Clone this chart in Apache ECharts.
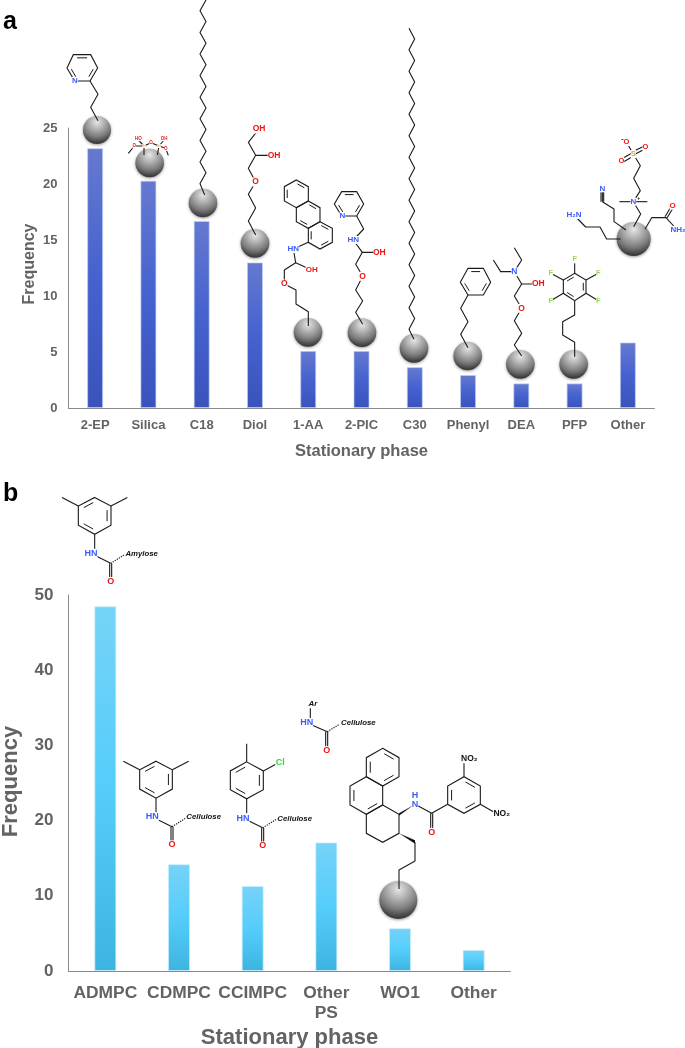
<!DOCTYPE html>
<html><head><meta charset="utf-8">
<style>html,body{margin:0;padding:0;background:#fff}#c{width:685px;height:1048px}</style>
<script src="https://cdn.jsdelivr.net/npm/echarts@6/dist/echarts.min.js"></script>
</head><body><div id="c"></div>
<script>
const phasesA = ['2-EP','Silica','C18','Diol','1-AA','2-PIC','C30','Phenyl','DEA','PFP','Other'];
const freqA = [23.2,20.3,16.7,13.0,5.1,5.1,3.65,2.95,2.2,2.2,5.85];
const phasesB = ['ADMPC','CDMPC','CCIMPC','Other\nPS','WO1','Other'];
const freqB = [48.5,14.2,11.3,17.1,5.7,2.8];
const FONT = '"Liberation Sans", Arial, sans-serif';
const GREY = '#636363', AXIS = '#8a8a8a';
const BLUE = '#3d5cff', RED = '#ee1515', GREEN = '#9ad45a', LIME = '#22dd33', ORANGE = '#f0a030', TAN='#e0a878', BLACK='#111';

const g = [];
function frame(ox,oy,sx,sy){ return (x,y)=>[ox+x/sx, oy+y/sy]; }
const A1 = frame(0,0,3,3), A2 = frame(340,0,3,3), B1 = frame(0,480,3,2.76), B2 = frame(280,680,3,3);

function line(f, flat, opt){
  opt = opt||{};
  const pts=[]; for(let i=0;i<flat.length;i+=2) pts.push(f(flat[i],flat[i+1]));
  g.push({type:'polyline',silent:true,z:20,shape:{points:pts},
    style:{stroke:opt.color||'#1a1a1a',lineWidth:opt.w||1.1,fill:null,lineDash:opt.dash||null,lineJoin:'round'}});
}
function ring(f, flat, dbl){
  const pts=[]; for(let i=0;i<flat.length;i+=2) pts.push(f(flat[i],flat[i+1]));
  const n=pts.length; const cx=pts.reduce((a,p)=>a+p[0],0)/n, cy=pts.reduce((a,p)=>a+p[1],0)/n;
  g.push({type:'polygon',silent:true,z:20,shape:{points:pts},style:{stroke:'#1a1a1a',lineWidth:1.1,fill:null}});
  (dbl||[]).forEach(i=>{
    const a=pts[i], b=pts[(i+1)%n], k=0.76;
    const p=[cx+(a[0]-cx)*k, cy+(a[1]-cy)*k], q=[cx+(b[0]-cx)*k, cy+(b[1]-cy)*k];
    const m=0.12;
    const p2=[p[0]+(q[0]-p[0])*m,p[1]+(q[1]-p[1])*m], q2=[q[0]+(p[0]-q[0])*m,q[1]+(p[1]-q[1])*m];
    g.push({type:'line',silent:true,z:20,shape:{x1:p2[0],y1:p2[1],x2:q2[0],y2:q2[1]},style:{stroke:'#1a1a1a',lineWidth:1}});
  });
}
function atom(f, t, x, y, color, size, extra){
  const p=f(x,y);
  g.push({type:'text',silent:true,z:22,x:p[0],y:p[1],style:Object.assign({text:t,fill:color||BLACK,font:'bold '+(size||8)+'px '+FONT,
    align:'center',verticalAlign:'middle',backgroundColor:extra&&extra.nobg?null:'#fff'},extra||{})});
}
function sphere(f,x,y,r){
  const p=f(x,y);
  g.push({type:'circle',silent:true,z:15,shape:{cx:p[0],cy:p[1],r:r},
    style:{fill:{type:'radial',x:0.5,y:0.22,r:0.85,colorStops:[{offset:0,color:'#e6e6e6'},{offset:0.3,color:'#b2b2b2'},{offset:0.62,color:'#7a7a7a'},{offset:0.86,color:'#3f3f3f'},{offset:1,color:'#2c2c2c'}]},
    shadowBlur:3,shadowColor:'rgba(0,0,0,0.4)',shadowOffsetY:1}});
}
function zigzag(f,x1,x2,yStart,step,count,endX,endY){
  const pts=[]; for(let i=0;i<count;i++){ pts.push(i%2?x2:x1, yStart+i*step); }
  pts.push(endX,endY); line(f,pts);
}

/* ---------- panel a molecules ---------- */
ring(A1,[220,164,272,164,293,204,270,243,224,243,201,204],[0,2,4]);
line(A1,[270,243,294,283,272,322,294,362]); atom(A1,'N',225,243,BLUE,8,{nobg:false});
sphere(A1,291,390,14);

sphere(A1,449,489,14.3);
line(A1,[385,460,403,438,432,438,415,420]); line(A1,[432,438,453,428,477,438,492,420]); line(A1,[477,438,497,445,505,466]);
line(A1,[432,438,432,465]); line(A1,[477,438,472,465]);
atom(A1,'HO',415,416,RED,4.5); atom(A1,'OH',492,416,RED,4.5); atom(A1,'O',403,438,RED,4.5); atom(A1,'O',453,428,RED,4.5); atom(A1,'O',497,445,RED,4.5);
atom(A1,'Si',432,438,TAN,4); atom(A1,'Si',477,438,TAN,4);

sphere(A1,609,609,14.3);
zigzag(A1,618,600,0,32.4,18,614,585);

line(A1,[777,387,745,427,767,466,822,466]); line(A1,[767,466,745,505,767,546,745,583,767,624,745,663,767,705]);
atom(A1,'OH',777,387,RED,8.5); atom(A1,'OH',822,466,RED,8.5); atom(A1,'O',767,546,RED,8.5);
sphere(A1,765,730,14.3);

ring(A1,[889,540,925,560,925,603,889,623,853,603,853,560],[0,4]);
ring(A1,[925,603,960,623,960,665,925,685,889,665,889,623],[0,3]);
ring(A1,[960,665,997,685,997,727,960,747,925,727,925,685],[0,2,4]);
line(A1,[925,727,880,747,887,788,935,810]); line(A1,[887,788,853,810,853,852,888,870,888,912,925,935,925,978]);
atom(A1,'HN',880,747,BLUE,8); atom(A1,'OH',935,810,RED,8); atom(A1,'O',853,852,RED,8.5);
sphere(A1,924,997,14.3);

/* 2-PIC */
ring(A2,[5,575,50,575,71,612,50,648,5,648,-17,612],[0,2,4]);
line(A2,[50,648,71,687,40,720,67,757,118,757]); line(A2,[67,757,47,793,68,829,47,870,68,903,47,937,68,973]);
atom(A2,'N',7,648,BLUE,8); atom(A2,'HN',40,720,BLUE,8); atom(A2,'OH',118,757,RED,8.5); atom(A2,'O',68,829,RED,8.5);
sphere(A2,66,998,14.3);

/* C30 */
sphere(A2,222,1045,14.3);
zigzag(A2,207,224,85,32.25,29,222,1018);

/* Phenyl */
ring(A2,[384,805,430,805,452,847,430,885,384,885,361,847],[0,2,4]);
line(A2,[384,885,362,925,384,965,362,1003,384,1043]);
sphere(A2,383,1068,14.3);

/* DEA */
line(A2,[523,743,545,780,523,815,482,815,460,780]); line(A2,[523,815,545,852,595,852]);
line(A2,[545,852,523,888,545,925,523,962,545,1000,523,1035,545,1068]);
atom(A2,'N',523,815,BLUE,8.5); atom(A2,'OH',595,852,RED,8.5); atom(A2,'O',545,925,RED,8.5);
sphere(A2,541,1093,14.3);

/* PFP */
ring(A2,[704,820,738,840,738,880,704,902,670,880,670,840],[1,3,5]);
line(A2,[704,820,704,778]); line(A2,[738,840,775,820]); line(A2,[738,880,775,902]); line(A2,[670,880,632,902]); line(A2,[670,840,632,820]);
[[704,778],[775,820],[775,902],[632,902],[632,820]].forEach(p=>atom(A2,'F',p[0],p[1],GREEN,7.5));
line(A2,[704,902,704,945,668,965,668,1005,704,1027,704,1070]);
sphere(A2,701,1093,14.3);

/* Other */
sphere(A2,881,717,17);
line(A2,[880,462,901,497,881,535,901,572,880,605,902,642,881,680]);
line(A2,[880,462,859,426]);
line(A2,[877,456,914,437]); line(A2,[882,464,919,445]);
line(A2,[877,458,841,479]); line(A2,[882,467,846,488]);
line(A2,[838,605,922,605]);
line(A2,[783,567,783,605]); line(A2,[787,567,787,605]); line(A2,[791,567,791,605]);
line(A2,[787,605,822,627,822,665,858,690]);
line(A2,[702,645,737,681,780,681,800,717,842,717]);
line(A2,[915,688,935,653,978,653,1012,690]);
line(A2,[975,650,995,617]); line(A2,[981,654,1001,621]);
atom(A2,'S',880,462,ORANGE,8); atom(A2,'O',859,426,RED,7.5); atom(A2,'-',847,418,BLACK,7,{nobg:true});
atom(A2,'O',916,441,RED,7.5); atom(A2,'O',844,483,RED,7.5);
atom(A2,'N',880,605,BLUE,8); atom(A2,'+',896,597,BLACK,5,{nobg:true});
atom(A2,'N',787,565,BLUE,8); atom(A2,'H\u2082N',702,645,BLUE,8); atom(A2,'O',998,617,RED,8); atom(A2,'NH\u2082',1014,690,BLUE,8);

/* ---------- panel b molecules ---------- */
function carbamate(f,nx,ny,name,nameX){
  const c=[nx+59,ny+27], o=[nx+59,ny+77];
  line(f,[nx,ny,c[0],c[1]]);
  line(f,[c[0]-3,c[1],o[0]-3,o[1]]); line(f,[c[0]+3,c[1],o[0]+3,o[1]]);
  line(f,[c[0],c[1],c[0]+40,c[1]-23],{dash:[1.2,1.2],w:1.2});
  atom(f,'HN',nx,ny,BLUE,9); atom(f,'O',o[0],o[1],RED,9);
  atom(f,name,nameX,ny+1,BLACK,7,{nobg:true,font:'italic bold 7.8px '+FONT});
}
ring(B1,[284,48,333,72,333,125,284,150,235,125,235,72],[1,3,5]);
line(B1,[235,72,186,48]); line(B1,[333,72,382,48]); line(B1,[284,150,284,190]);
carbamate(B1,273,203,'Amylose',425);

ring(B1,[468,776,517,800,517,853,468,878,419,853,419,800],[1,3,5]);
line(B1,[419,800,370,776]); line(B1,[517,800,566,776]); line(B1,[468,878,468,918]);
carbamate(B1,457,930,'Cellulose',611);

ring(B1,[740,778,790,803,790,855,740,880,691,855,691,803],[1,3,5]);
line(B1,[740,778,740,728]); line(B1,[790,803,826,785]); line(B1,[740,880,740,920]);
atom(B1,'Cl',841,779,LIME,9);
carbamate(B1,729,933,'Cellulose',884);

line(B2,[91,85,91,115]); atom(B2,'Ar',99,72,BLACK,7.5,{font:'italic bold 8px '+FONT,nobg:true});
line(B2,[80,128,142,155]); line(B2,[137,155,137,205]); line(B2,[143,155,143,205]);
line(B2,[142,155,178,133],{dash:[1.2,1.2],w:1.2});
atom(B2,'HN',80,128,BLUE,9); atom(B2,'O',140,212,RED,9);
atom(B2,'Cellulose',235,128,BLACK,7,{nobg:true,font:'italic bold 7.8px '+FONT});

ring(B2,[308,205,357,233,357,290,308,318,259,290,259,233],[0,2,4]);
ring(B2,[259,290,308,318,308,375,259,403,210,375,210,318],[2,4]);
ring(B2,[308,375,357,403,357,460,308,487,259,460,259,403],[]);
g.push({type:'polygon',silent:true,z:20,shape:{points:[B2(357,400),B2(357,407),B2(400,376)]},style:{fill:'#111'}});
g.push({type:'polygon',silent:true,z:20,shape:{points:[B2(357,460),B2(405,481),B2(405,491)]},style:{fill:'#111'}});
line(B2,[405,373,455,400,503,373]); line(B2,[452,400,452,450]); line(B2,[458,400,458,450]);
ring(B2,[503,373,503,318,552,290,601,318,601,373,552,400],[0,2,4]);
line(B2,[552,290,552,250]); line(B2,[601,373,640,395]);
line(B2,[405,487,405,543,357,570,357,627]);
atom(B2,'N',405,373,BLUE,9); atom(B2,'H',405,346,BLUE,9); atom(B2,'O',455,457,RED,9);
atom(B2,'NO\u2082',568,235,BLACK,8.5); atom(B2,'NO\u2082',665,402,BLACK,8.5);
sphere(B2,355,660,19);

/* panel letters */
g.push({type:'text',silent:true,z:30,x:3,y:22,style:{text:'a',fill:'#000',font:'bold 25px '+FONT,align:'left',verticalAlign:'middle'}});
g.push({type:'text',silent:true,z:30,x:3,y:494,style:{text:'b',fill:'#000',font:'bold 25px '+FONT,align:'left',verticalAlign:'middle'}});

function grad(c){ return {type:'linear',x:0,y:0,x2:0,y2:1,colorStops:[{offset:0,color:c[0]},{offset:0.5,color:c[1]},{offset:1,color:c[2]}]}; }
function xAxis(i,cats,size,margin,nameSize,gap){
  return {type:'category',gridIndex:i,data:cats,axisTick:{show:false},
    axisLine:{lineStyle:{color:AXIS,width:1}},
    axisLabel:{interval:0,color:GREY,fontFamily:FONT,fontWeight:'bold',fontSize:size,margin:margin,lineHeight:size+3},
    name:'Stationary phase',nameLocation:'middle',nameGap:gap,nameMoveOverlap:false,
    nameTextStyle:{color:GREY,fontFamily:FONT,fontWeight:'bold',fontSize:nameSize}};
}
function yAxis(i,max,step,size,margin,nameSize,gap,pad){
  return {type:'value',gridIndex:i,min:0,max:max,interval:step,splitLine:{show:false},axisTick:{show:false},
    axisLine:{show:true,lineStyle:{color:AXIS,width:1}},
    axisLabel:{color:GREY,fontFamily:FONT,fontWeight:'bold',fontSize:size,margin:margin},
    name:'Frequency',nameLocation:'middle',nameGap:gap,nameMoveOverlap:false,
    nameTextStyle:{color:GREY,fontFamily:FONT,fontWeight:'bold',fontSize:nameSize,padding:pad}};
}
const chart = echarts.init(document.getElementById('c'),null,{renderer:'canvas'});
chart.setOption({
  animation:false,backgroundColor:'#fff',
  grid:[{left:68.5,top:128,width:586,height:280,outerBoundsMode:'none'},{left:68.5,top:595,width:442,height:376,outerBoundsMode:'none'}],
  xAxis:[xAxis(0,phasesA,13,9,16.5,35),xAxis(1,phasesB,17.4,12,22,56)],
  yAxis:[yAxis(0,25,5,13,11,16,31,[0,0,0,8]),yAxis(1,50,10,17,15,22,47,[0,0,0,3])],
  series:[
    {type:'bar',xAxisIndex:0,yAxisIndex:0,data:freqA,barWidth:16,itemStyle:{color:grad(['#6679cf','#4562cf','#3a53bc']),borderColor:'rgba(190,205,240,0.7)',borderWidth:1}},
    {type:'bar',xAxisIndex:1,yAxisIndex:1,data:freqB,barWidth:22,itemStyle:{color:grad(['#76d3f7','#55cdfb','#3db4e0']),borderColor:'rgba(200,238,252,0.7)',borderWidth:1}}
  ],
  graphic:{elements:g}
});
</script></body></html>
